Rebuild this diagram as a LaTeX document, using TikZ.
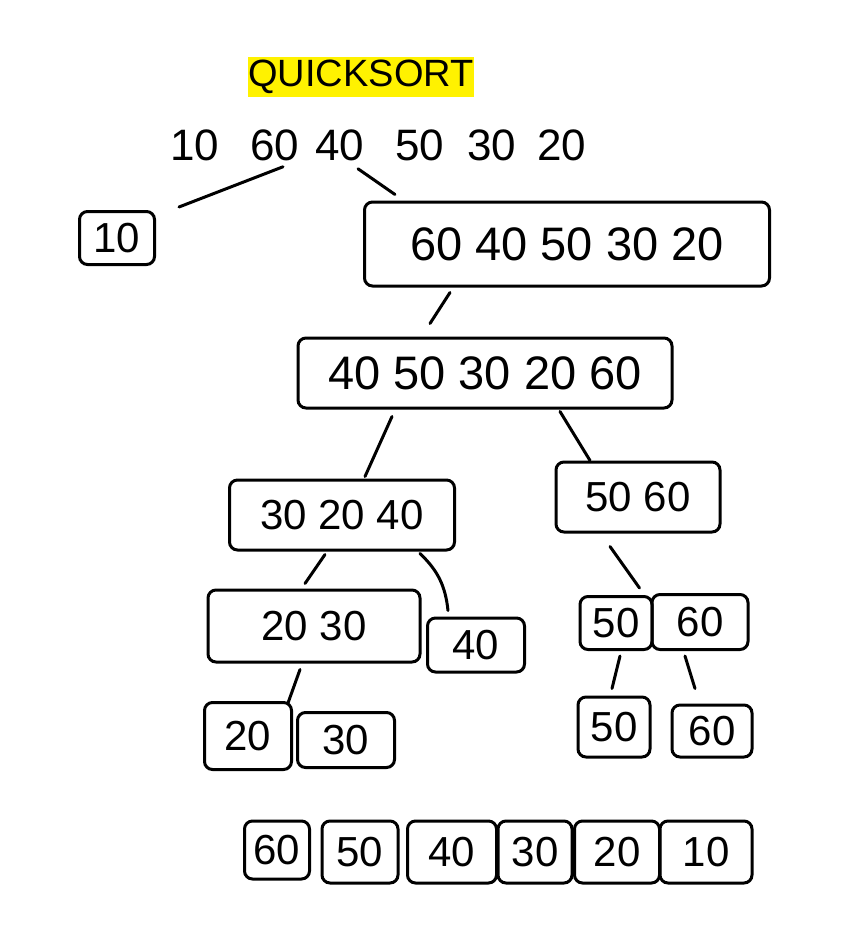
\documentclass[tikz,border=0pt]{standalone}
\usepackage{fontspec}
\setmainfont{Liberation Sans}
\usetikzlibrary{calc}
\begin{document}
\begin{tikzpicture}[x=1pt,y=-1pt,
  numtext/.style={font=\fontsize{44}{44}\selectfont, inner sep=2pt},
  bx/.style={draw, line width=3pt, rounded corners=8pt, inner sep=0pt, font=\fontsize{42}{42}\selectfont},
  bigbx/.style={bx, font=\fontsize{47}{47}\selectfont},
  conn/.style={line width=3pt, line cap=round}]
\useasboundingbox[fill=white] (0,0) rectangle (864,945);

% title
\node[fill=yellow, minimum width=212pt, minimum height=40pt, inner sep=0pt,
      font=\fontsize{38}{38}\selectfont] (title) at (361,77) {QUICKSORT};

% top row
\node[numtext] (n10) at (195,145) {10};
\node[numtext] (n60) at (275,145) {60};
\node[numtext] (n40) at (340,145) {40};
\node[numtext] (n50) at (420,145) {50};
\node[numtext] (n30) at (492,145) {30};
\node[numtext] (n20) at (562,145) {20};

% level 1
\node[bx, minimum width=75pt, minimum height=53pt] (b10) at (117,238) {10};
\node[bigbx, minimum width=405pt, minimum height=84pt] (bA) at (567,244) {60 40 50 30 20};

% level 2
\node[bigbx, minimum width=374pt, minimum height=70pt] (bB) at (485,373) {40 50 30 20 60};

% level 3
\node[bx, minimum width=225pt, minimum height=70pt] (bC) at (342,515) {30 20 40};
\node[bx, minimum width=164pt, minimum height=70pt] (bD) at (638,497) {50 60};

% level 4
\node[bx, minimum width=212pt, minimum height=72pt] (bE) at (314,626) {20 30};
\node[bx, minimum width=97pt, minimum height=54pt] (bF) at (476,645) {40};
\node[bx, minimum width=72pt, minimum height=53pt] (bG1) at (616,623) {50};
\node[bx, minimum width=96pt, minimum height=55pt] (bG2) at (700,622) {60};

% level 5
\node[bx, minimum width=87pt, minimum height=67pt] (bI1) at (248,736) {20};
\node[bx, minimum width=97pt, minimum height=55pt] (bI2) at (346,740) {30};
\node[bx, minimum width=72pt, minimum height=60pt] (bH1) at (614,727) {50};
\node[bx, minimum width=80pt, minimum height=52pt] (bH2) at (712,731) {60};

% bottom row
\node[bx, minimum width=65pt, minimum height=58pt] (r60) at (277,850) {60};
\node[bx, minimum width=76pt, minimum height=62pt] (r50) at (360,852) {50};
\node[bx, minimum width=89pt, minimum height=62pt] (r40) at (452,852) {40};
\node[bx, minimum width=74pt, minimum height=62pt] (r30) at (535,852) {30};
\node[bx, minimum width=85pt, minimum height=62pt] (r20) at (617,852) {20};
\node[bx, minimum width=92pt, minimum height=62pt] (r10) at (706,852) {10};

% connectors
\draw[conn] ($(n60.south)+(8,4)$) -- ($(b10.north east)+(23,-3)$);
\draw[conn] ($(n40.south)+(18,6)$) -- ($(bA.north west)+(32,-6)$);
\draw[conn] ($(bA.south)+(-117,5)$) -- ($(bB.north)+(-55,-13)$);
\draw[conn] ($(bB.south)+(-93,7)$) -- ($(bC.north)+(23,-2)$);
\draw[conn] ($(bB.south)+(75,2)$) -- ($(bD.north)+(-48,0)$);
\draw[conn] ($(bC.south)+(-17,3)$) -- ($(bE.north)+(-9,-5)$);
\draw[conn] ($(bC.south)+(78,2)$) to[bend left=20] ($(bF.north)+(-28,-6)$);
\draw[conn] ($(bD.south)+(-28,13)$) -- ($(bG1.north east)+(-14,-7)$);
\draw[conn] ($(bG1.south)+(4,5)$) -- ($(bH1.north)+(-2,-7)$);
\draw[conn] ($(bG2.south)+(-15,5)$) -- ($(bH2.north)+(-17,-15)$);
\draw[conn] ($(bE.south)+(-14,6)$) -- ($(bI1.north)+(40,2)$);
\end{tikzpicture}
\end{document}
